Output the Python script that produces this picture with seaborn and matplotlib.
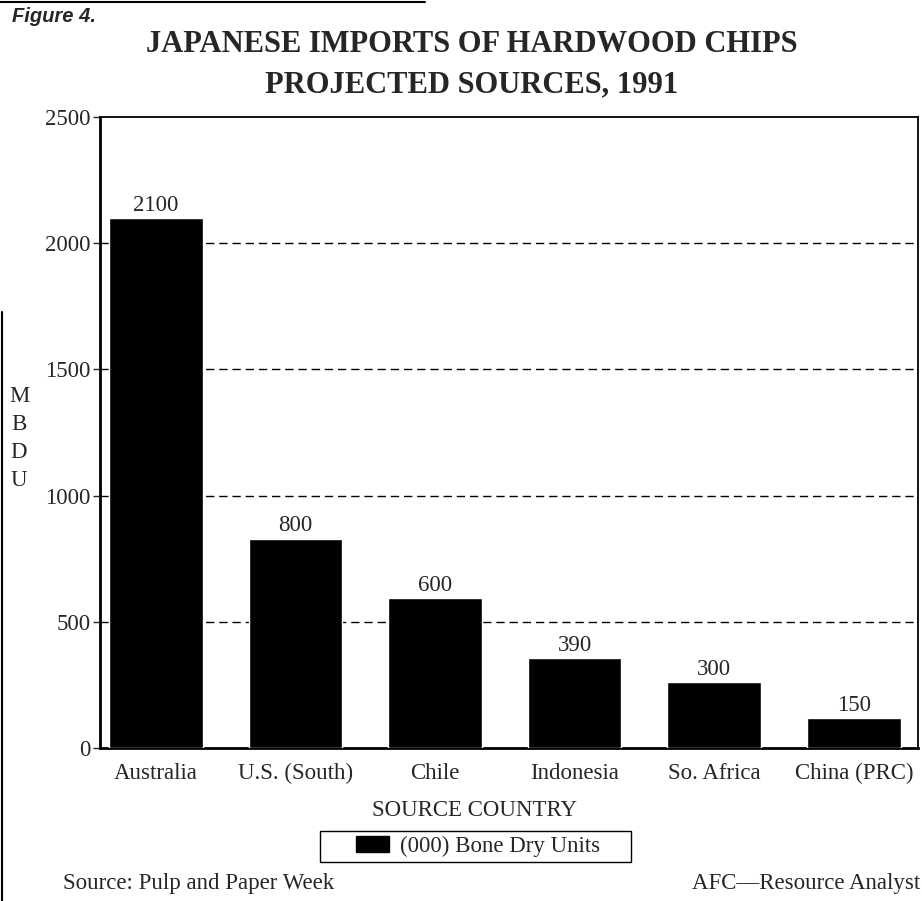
import pandas as pd
import numpy as np
import matplotlib.pyplot as plt
import seaborn as sns
from matplotlib.patches import Patch, Rectangle
from matplotlib.lines import Line2D

# Data
countries = ["Australia", "U.S. (South)", "Chile", "Indonesia", "So. Africa", "China (PRC)"]
bar_heights = [2100, 830, 595, 355, 260, 120]   # bar tops as drawn
bar_labels = ["2100", "800", "600", "390", "300", "150"]  # printed values
y_ticks = [0, 500, 1000, 1500, 2000, 2500]

df = pd.DataFrame({"country": countries, "mbdu": bar_heights})

sns.set_style("white")
plt.rcParams["font.family"] = ["Liberation Serif", "DejaVu Serif"]
fs = 16.5

fig = plt.figure(figsize=(9.22, 9.01), dpi=100)
ax = fig.add_axes([100 / 922, 1 - 748 / 901, 818 / 922, 631 / 901])

sns.barplot(data=df, x="country", y="mbdu", color="black", saturation=1,
            width=0.67, ax=ax, zorder=3)

ax.set_xlim(-0.4, 5.46)
ax.set_ylim(0, 2500)
ax.set_yticks(y_ticks)
ax.set_yticklabels([str(t) for t in y_ticks], fontsize=fs)
ax.set_xticks(range(len(countries)))
ax.set_xticklabels(countries, fontsize=fs)
ax.set_xlabel("")
ax.set_ylabel("")

# dashed grid lines
ax.set_axisbelow(True)
for t in y_ticks[1:-1]:
    ax.axhline(t, color="black", lw=1, ls=(0, (6, 3.5)), zorder=1)

for side in ["left", "bottom"]:
    ax.spines[side].set_linewidth(2)
for side in ["top", "right"]:
    ax.spines[side].set_linewidth(1.3)
for s in ax.spines.values():
    s.set_color("black")
ax.tick_params(axis="y", which="major", direction="out", length=5, width=1, pad=2, left=True)
ax.tick_params(axis="x", length=0, pad=11)

# value labels
for i, (h, lab) in enumerate(zip(bar_heights, bar_labels)):
    ax.annotate(lab, (i, h), xytext=(0, 1.5), textcoords="offset points",
                ha="center", va="bottom", fontsize=fs)

# titles and notes
fig.text(12 / 922, 1 - 17 / 901, "Figure 4.", fontsize=14.5, fontweight="bold",
         fontstyle="italic", family=["Liberation Sans", "DejaVu Sans"], va="center", ha="left")
fig.add_artist(Line2D([0, 425 / 922], [1 - 1.5 / 901, 1 - 1.5 / 901], color="black", lw=1.5))
fig.add_artist(Line2D([2 / 922, 2 / 922], [0, 1 - 312 / 901], color="black", lw=1.5))
fig.text(472 / 922, 1 - 45 / 901, "JAPANESE IMPORTS OF HARDWOOD CHIPS", fontsize=22,
         fontweight="bold", ha="center", va="center")
fig.text(472 / 922, 1 - 85 / 901, "PROJECTED SOURCES, 1991", fontsize=22,
         fontweight="bold", ha="center", va="center")

for letter, yp in zip("MBDU", [397, 425, 452, 480]):
    fig.text(19 / 922, 1 - yp / 901, letter, fontsize=fs, ha="center", va="center")
fig.text(475 / 922, 1 - 811 / 901, "SOURCE COUNTRY", fontsize=fs, ha="center", va="center")

leg = fig.legend(handles=[Patch(facecolor="black", edgecolor="black", label="(000) Bone Dry Units")],
                 loc="center", bbox_to_anchor=(478 / 922, 1 - 846.5 / 901), fontsize=fs,
                 frameon=False, handlelength=1.45, handleheight=0.7, handletextpad=0.45,
                 borderaxespad=0, borderpad=0)
fig.add_artist(Rectangle((320 / 922, 1 - 862 / 901), 311 / 922, 31 / 901,
                         transform=fig.transFigure, fill=False, edgecolor="black", lw=1))

fig.text(63 / 922, 1 - 883 / 901, "Source: Pulp and Paper Week", fontsize=fs, ha="left", va="center")
fig.text(920 / 922, 1 - 883 / 901, "AFC\u2014Resource Analyst", fontsize=fs, ha="right", va="center")

fig.savefig("out.png", dpi=100)
